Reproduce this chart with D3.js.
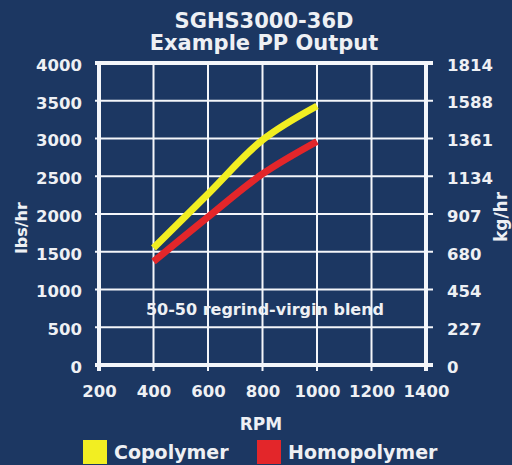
<!DOCTYPE html>
<html><head><meta charset="utf-8">
<script src="https://cdn.jsdelivr.net/npm/d3@7"></script>
<style>body{margin:0;background:#1c3762;} svg{display:block;} text{font-family:"DejaVu Sans",sans-serif;font-weight:bold;fill:#eef0f4;}</style>
</head><body>
<svg id="c" width="512" height="465"></svg>
<script>
const rpm = [400, 600, 800, 1000];
const copolymer = [1550, 2265, 2980, 3430];
const homopolymer = [1370, 1960, 2530, 2960];
const xTicks = [200, 400, 600, 800, 1000, 1200, 1400];
const yTicks = [0, 500, 1000, 1500, 2000, 2500, 3000, 3500, 4000];
const kgTicks = [0, 227, 454, 680, 907, 1134, 1361, 1588, 1814];
const seriesNames = ["Copolymer", "Homopolymer"];
const seriesColors = ["#f2ee22", "#e3262a"];
const titleLines = ["SGHS3000-36D", "Example PP Output"];

const svg = d3.select("#c");
svg.append("rect").attr("width", 512).attr("height", 465).attr("fill", "#1c3762");

const x = d3.scaleLinear().domain([200, 1400]).range([99, 426]);
const y = d3.scaleLinear().domain([0, 4000]).range([365, 63]);
const yR = d3.scaleLinear().domain([0, 4000 * 0.45359237]).range([365, 63]);

// grid
const grid = svg.append("g").attr("stroke", "#f4f6fa");
grid.selectAll("line.h").data(yTicks).join("line")
  .attr("x1", x(200) - 4).attr("x2", x(1400) + 7)
  .attr("y1", d => y(d)).attr("y2", d => y(d))
  .attr("stroke-width", d => (d === 0 || d === 4000) ? 4 : 2);
grid.selectAll("line.v").data(xTicks).join("line")
  .attr("x1", d => x(d)).attr("x2", d => x(d))
  .attr("y1", y(4000)).attr("y2", y(0) + 6)
  .attr("stroke-width", d => (d === 200 || d === 1400) ? 4 : 2);

// axes labels
const fs = "16.5px";
const fmt = d3.format("d");
const ax1 = svg.append("g").attr("transform", `translate(${x(200)},2)`)
  .call(d3.axisLeft(y).tickValues(yTicks).tickFormat(fmt).tickSize(0).tickPadding(17));
const ax2 = svg.append("g").attr("transform", `translate(${x(1400)},2)`)
  .call(d3.axisRight(yR).tickValues(kgTicks).tickFormat(fmt).tickSize(0).tickPadding(21));
const ax3 = svg.append("g").attr("transform", `translate(0,${y(0)})`)
  .call(d3.axisBottom(x).tickValues(xTicks).tickFormat(fmt).tickSize(0).tickPadding(20));
[ax1, ax2, ax3].forEach(a => {
  a.select(".domain").remove();
  a.selectAll("text").style("font-size", fs).style("font-family", "DejaVu Sans").style("font-weight", "bold").attr("fill", "#eef0f4");
});

// series
const line = d3.line().x(d => x(d[0])).y(d => y(d[1])).curve(d3.curveCatmullRom);
[copolymer, homopolymer].forEach((vals, i) => {
  svg.append("path").datum(rpm.map((r, j) => [r, vals[j]]))
    .attr("d", line).attr("fill", "none")
    .attr("stroke", seriesColors[i]).attr("stroke-width", 7)
    .attr("stroke-linecap", "butt");
});

// title
svg.selectAll("text.title").data(titleLines).join("text").attr("class", "title")
  .attr("x", 264).attr("y", (d, i) => 27.5 + i * 22.5)
  .attr("text-anchor", "middle").style("font-size", "21px").text(d => d);

// annotation
svg.append("text").attr("x", 265).attr("y", 315).attr("text-anchor", "middle")
  .style("font-size", "16px").text("50-50 regrind-virgin blend");

// axis titles
svg.append("text").attr("transform", "translate(27,228) rotate(-90)")
  .attr("text-anchor", "middle").style("font-size", "16px").text("lbs/hr");
svg.append("text").attr("transform", "translate(507,217) rotate(-90)")
  .attr("text-anchor", "middle").style("font-size", "17px").text("kg/hr");
svg.append("text").attr("x", 261).attr("y", 430).attr("text-anchor", "middle")
  .style("font-size", "17px").text("RPM");

// legend
const legX = [83, 257];
const lg = svg.selectAll("g.leg").data(seriesNames).join("g").attr("class", "leg")
  .attr("transform", (d, i) => `translate(${legX[i]},440)`);
lg.append("rect").attr("width", 24).attr("height", 24).attr("fill", (d, i) => seriesColors[i]);
lg.append("text").attr("x", 31).attr("y", 18.5).style("font-size", "19px").text(d => d);
</script>
</body></html>
